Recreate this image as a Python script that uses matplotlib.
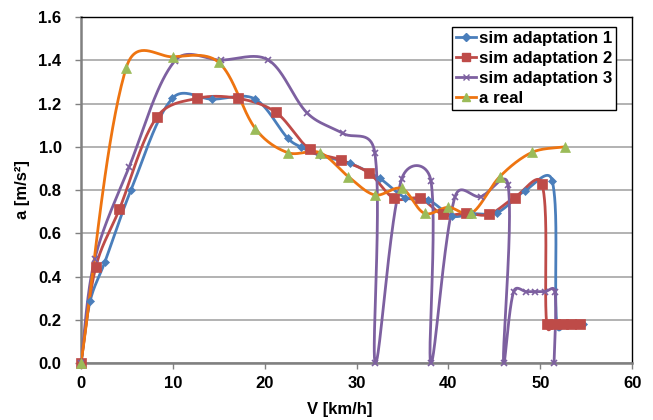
import numpy as np
import matplotlib
matplotlib.use("Agg")
import matplotlib.pyplot as plt
from matplotlib.lines import Line2D
from matplotlib.ticker import FormatStrFormatter

plt.rcParams["font.family"] = ["Liberation Sans", "DejaVu Sans"]
plt.rcParams["font.weight"] = "bold"

# speed [km/h] and acceleration [m/s2] for each run
v_sim1 = [0, 1.0, 2.6, 5.45, 9.95, 14.3, 18.9, 22.5, 23.9, 26.0, 29.3, 32.5, 35.3, 37.8,
          40.4, 42.6, 45.3, 48.3, 51.3, 51.8, 52.8, 53.8, 54.7]
a_sim1 = [0, 0.287, 0.467, 0.80, 1.224, 1.22, 1.222, 1.04, 1.0, 0.96, 0.923, 0.854, 0.765,
          0.754, 0.68, 0.69, 0.695, 0.795, 0.843, 0.18, 0.18, 0.18, 0.18]

v_sim2 = [0, 1.6, 4.17, 8.24, 12.67, 17.07, 21.2, 24.9, 28.3, 31.4, 34.1, 36.9, 39.4,
          41.9, 44.4, 47.2, 50.2, 50.7, 51.6, 52.5, 53.4, 54.3]
a_sim2 = [0, 0.442, 0.71, 1.136, 1.224, 1.224, 1.16, 0.988, 0.939, 0.877, 0.761, 0.761,
          0.687, 0.692, 0.687, 0.765, 0.828, 0.18, 0.18, 0.18, 0.18, 0.18]

v_sim3 = [0, 1.5, 5.23, 10.24, 15.25, 20.4, 24.65, 28.5, 32.0, 32.05, 34.9, 38.1, 38.1,
          40.7, 43.5, 46.5, 46.0, 47.1, 48.5, 49.4, 50.5, 51.6, 51.5]
a_sim3 = [0, 0.48, 0.905, 1.398, 1.401, 1.401, 1.155, 1.062, 0.97, 0.0, 0.849, 0.842, 0.0,
          0.766, 0.769, 0.823, 0.0, 0.33, 0.33, 0.33, 0.33, 0.33, 0.0]

v_real = [0, 4.9, 10.06, 15.0, 19.0, 22.5, 26.0, 29.1, 32.0, 34.9, 37.4, 40.0, 42.5,
          45.6, 49.1, 52.7]
a_real = [0, 1.362, 1.416, 1.39, 1.083, 0.973, 0.973, 0.862, 0.777, 0.807, 0.692, 0.72,
          0.692, 0.862, 0.974, 1.0]

labels = ["sim adaptation 1", "sim adaptation 2", "sim adaptation 3", "a real"]

# rough pixel size of one data unit, so the smoothing works on screen distances
X_SCALE = 551 / 60
Y_SCALE = 346 / 1.6


def smooth_curve(xs, ys, n=40, blend=0.5):
    # cubic Bezier through the points; handle length is a mix of plain
    # Catmull-Rom and a version weighted by the neighbouring segment lengths
    pts = np.column_stack([np.array(xs) * X_SCALE, np.array(ys) * Y_SCALE]).astype(float)
    out = [pts[0]]
    t = np.linspace(0, 1, n)[1:, None]
    npts = len(pts)

    def handles(i):
        p = pts[i]
        prev = pts[i - 1] if i > 0 else p
        nxt = pts[i + 1] if i + 1 < npts else p
        d = nxt - prev
        lp = np.hypot(*(p - prev))
        ln = np.hypot(*(nxt - p))
        tot = lp + ln
        if tot == 0:
            return p, p
        wp = blend * lp / tot + (1 - blend) * 0.5
        wn = blend * ln / tot + (1 - blend) * 0.5
        return p - d * wp / 3, p + d * wn / 3

    for i in range(npts - 1):
        p1, p2 = pts[i], pts[i + 1]
        c1 = handles(i)[1]
        c2 = handles(i + 1)[0]
        seg = ((1 - t) ** 3) * p1 + 3 * ((1 - t) ** 2) * t * c1 \
            + 3 * (1 - t) * t ** 2 * c2 + t ** 3 * p2
        out.extend(seg)
    out = np.array(out)
    return out[:, 0] / X_SCALE, out[:, 1] / Y_SCALE


series = [
    (v_sim1, a_sim1, "#4A7EBB", "#4A7EBB", "D", 4.5),
    (v_sim2, a_sim2, "#BE4B48", "#BE4B48", "s", 7),
    (v_sim3, a_sim3, "#7D60A0", "#7D60A0", "x", 5),
    (v_real, a_real, "#EE7410", "#9BBB59", "^", 7),
]

fig = plt.figure(figsize=(6.53, 4.2), dpi=100)
ax = fig.add_axes([0.124, 0.1357, 0.844, 0.8238])

handles_leg = []
for (xs, ys, lc, mc, mk, ms), lab in zip(series, labels):
    sx, sy = smooth_curve(xs, ys)
    ax.plot(sx, sy, color=lc, linewidth=2, zorder=3)
    ax.plot(xs, ys, linestyle="none", marker=mk, markersize=ms, color=mc,
            markeredgecolor=mc, markeredgewidth=1.2 if mk == "x" else 0.5,
            clip_on=False, zorder=4)
    handles_leg.append(Line2D([], [], color=lc, linewidth=2, marker=mk,
                              markersize=ms * 0.8, markerfacecolor=mc,
                              markeredgecolor=mc))

ax.set_xlim(0, 60)
ax.set_ylim(0, 1.6)
ax.set_xticks(np.arange(0, 61, 10))
ax.set_yticks(np.arange(0, 1.61, 0.2))
ax.yaxis.set_major_formatter(FormatStrFormatter("%.1f"))
ax.tick_params(axis="both", labelsize=12, direction="out", length=4, width=1,
               color="#808080")
ax.tick_params(axis="x", pad=5.5)
ax.tick_params(axis="y", pad=10)
ax.yaxis.grid(True, color="#A6A6A6", linewidth=1.2)
ax.set_axisbelow(True)

for side in ["top", "right"]:
    ax.spines[side].set_color("black")
    ax.spines[side].set_linewidth(1)
for side in ["left", "bottom"]:
    ax.spines[side].set_color("#808080")
    ax.spines[side].set_linewidth(1.8)
    ax.spines[side].set_zorder(2.5)

ax.set_xlabel("V [km/h]", fontsize=12, fontweight="bold")
ax.set_ylabel("a [m/s²]", fontsize=12, fontweight="bold")
ax.xaxis.set_label_coords(0.47, -0.112)
ax.yaxis.set_label_coords(-0.093, 0.5)

leg = ax.legend(handles_leg, labels, loc="upper right", bbox_to_anchor=(0.971, 0.971),
                borderaxespad=0, fontsize=12.2, frameon=True, fancybox=False,
                handlelength=1.2, handletextpad=0.15, labelspacing=0.3,
                borderpad=0.24, framealpha=1)
leg.get_frame().set_edgecolor("black")
leg.get_frame().set_linewidth(1)
for txt in leg.get_texts():
    txt.set_fontweight("bold")

fig.savefig("out.png", dpi=100)
